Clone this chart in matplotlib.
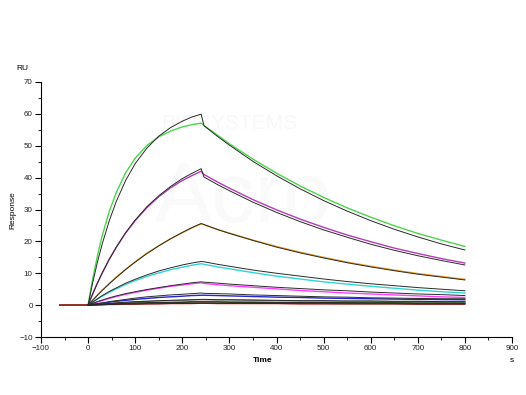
import matplotlib
matplotlib.use("Agg")
import matplotlib.pyplot as plt
from matplotlib.ticker import MultipleLocator

# ---- data ----
BASE_TIME = [-60, -40, -20]
BASELINE = [0.0, 0.0, 0.0]
TIME = [0, 5, 10, 20, 30, 45, 60, 80, 100, 125, 150, 175, 200, 220, 240, 246,
        275, 300, 350, 400, 450, 500, 550, 600, 650, 700, 750, 800]

green = [0, 4.4, 8.4, 15.6, 21.8, 29.4, 35.4, 41.6, 46.1, 50.1, 52.8, 54.6, 55.9, 56.6, 57.1,
         56.3, 53.3, 50.6, 45.8, 41.4, 37.4, 33.8, 30.5, 27.6, 24.9, 22.5, 20.4, 18.4]
fit_a = [0, 3.7, 7.2, 13.6, 19.2, 26.5, 32.6, 39.2, 44.4, 49.3, 53.0, 55.7, 57.7, 59.0, 59.9,
         56.3, 52.9, 50.2, 45.1, 40.6, 36.5, 32.8, 29.5, 26.5, 23.8, 21.4, 19.2, 17.3]
purple = [0, 1.9, 3.6, 7.0, 10.1, 14.4, 18.2, 22.7, 26.5, 30.6, 34.0, 36.8, 39.1, 40.6, 42.0,
          41.0, 38.6, 36.7, 33.1, 29.9, 27.0, 24.4, 22.0, 19.9, 17.9, 16.2, 14.6, 13.2]
fit_b = [0, 1.8, 3.6, 7.0, 10.1, 14.4, 18.2, 22.8, 26.7, 30.9, 34.3, 37.2, 39.7, 41.3, 42.8,
         40.2, 37.8, 35.9, 32.3, 29.1, 26.2, 23.6, 21.3, 19.1, 17.2, 15.5, 14.0, 12.6]
orange = [0, 0.8, 1.6, 3.2, 4.7, 6.8, 8.8, 11.3, 13.6, 16.3, 18.6, 20.8, 22.7, 24.2, 25.5,
          25.2, 23.7, 22.6, 20.4, 18.4, 16.6, 15.0, 13.5, 12.2, 11.0, 9.9, 9.0, 8.1]
fit_c = [0, 0.8, 1.6, 3.1, 4.6, 6.7, 8.7, 11.2, 13.5, 16.2, 18.6, 20.8, 22.8, 24.3, 25.6,
         25.3, 23.7, 22.5, 20.3, 18.2, 16.4, 14.8, 13.3, 12.0, 10.8, 9.7, 8.8, 7.9]
cyan = [0, 0.5, 1.0, 1.9, 2.8, 4.0, 5.1, 6.5, 7.7, 9.0, 10.1, 11.1, 11.9, 12.5, 13.0,
        12.8, 12.0, 11.4, 10.2, 9.1, 8.2, 7.3, 6.6, 5.9, 5.3, 4.7, 4.2, 3.8]
fit_d = [0, 0.5, 1.0, 2.0, 3.0, 4.3, 5.4, 6.9, 8.1, 9.5, 10.7, 11.7, 12.6, 13.2, 13.7,
         13.6, 12.8, 12.2, 11.0, 10.0, 9.1, 8.2, 7.4, 6.7, 6.1, 5.5, 5.0, 4.5]
pink = [0, 0.3, 0.5, 1.0, 1.4, 2.1, 2.7, 3.4, 4.0, 4.7, 5.3, 5.9, 6.3, 6.7, 7.0,
        6.8, 6.4, 6.1, 5.6, 5.1, 4.6, 4.2, 3.8, 3.5, 3.2, 2.9, 2.6, 2.4]
fit_e = [0, 0.3, 0.6, 1.1, 1.6, 2.3, 2.9, 3.6, 4.2, 4.9, 5.5, 6.1, 6.6, 7.0, 7.3,
         7.2, 6.9, 6.6, 6.1, 5.6, 5.2, 4.8, 4.5, 4.1, 3.8, 3.5, 3.3, 3.0]
blue = [0, 0.1, 0.2, 0.4, 0.6, 0.9, 1.2, 1.5, 1.8, 2.1, 2.4, 2.6, 2.8, 3.0, 3.1,
        3.1, 3.0, 2.9, 2.7, 2.5, 2.4, 2.2, 2.1, 2.0, 1.9, 1.8, 1.75, 1.7]
fit_f = [0, 0.1, 0.3, 0.5, 0.7, 1.1, 1.4, 1.8, 2.2, 2.6, 2.9, 3.2, 3.4, 3.6, 3.8,
         3.7, 3.6, 3.5, 3.2, 3.0, 2.8, 2.6, 2.5, 2.3, 2.2, 2.1, 2.0, 2.0]
grey = [0, 0.05, 0.1, 0.2, 0.3, 0.5, 0.7, 0.8, 1.0, 1.2, 1.3, 1.4, 1.5, 1.6, 1.7,
        1.7, 1.6, 1.6, 1.5, 1.4, 1.3, 1.3, 1.2, 1.2, 1.1, 1.1, 1.0, 1.0]
fit_g = [0, 0.05, 0.1, 0.2, 0.35, 0.5, 0.7, 0.9, 1.1, 1.2, 1.4, 1.5, 1.6, 1.7, 1.8,
         1.8, 1.7, 1.7, 1.6, 1.5, 1.4, 1.4, 1.3, 1.3, 1.2, 1.2, 1.1, 1.1]
dkgreen = [0, 0, 0.1, 0.1, 0.2, 0.3, 0.4, 0.5, 0.6, 0.7, 0.8, 0.8, 0.9, 1.0, 1.0,
           1.0, 1.0, 0.9, 0.9, 0.8, 0.8, 0.8, 0.7, 0.7, 0.7, 0.6, 0.6, 0.6]
fit_h = [0, 0, 0.1, 0.15, 0.25, 0.35, 0.45, 0.55, 0.65, 0.75, 0.8, 0.85, 0.9, 1.0, 1.05,
         1.05, 1.0, 0.95, 0.9, 0.85, 0.8, 0.8, 0.75, 0.7, 0.7, 0.65, 0.65, 0.6]
red = [0, 0, 0, 0.1, 0.1, 0.2, 0.2, 0.3, 0.3, 0.4, 0.4, 0.5, 0.5, 0.5, 0.6,
       0.6, 0.5, 0.5, 0.5, 0.5, 0.4, 0.4, 0.4, 0.4, 0.4, 0.3, 0.3, 0.3]
fit_i = [0, 0, 0.05, 0.1, 0.15, 0.2, 0.25, 0.3, 0.35, 0.4, 0.45, 0.5, 0.5, 0.55, 0.6,
         0.6, 0.55, 0.55, 0.5, 0.5, 0.45, 0.45, 0.4, 0.4, 0.4, 0.35, 0.35, 0.35]

data_series = [
    (green, "#4cd44c"), (purple, "#b43cb4"), (orange, "#e8a020"), (cyan, "#30d4d4"),
    (pink, "#ff3cff"), (blue, "#2424d0"), (grey, "#8c8c8c"), (dkgreen, "#006400"),
    (red, "#e01010"),
]
fit_series = [fit_a, fit_b, fit_c, fit_d, fit_e, fit_f, fit_g, fit_h, fit_i]

plt.rcParams['font.family'] = ['Liberation Sans', 'DejaVu Sans']

fig = plt.figure(figsize=(5.26, 3.95), dpi=100)
ax = fig.add_axes([41/526, 58/395, 471/526, 255/395])

# faint watermark
ax.text(300, 57, "BIOSYSTEMS", fontsize=15, color="#f8f8f8", ha="center", va="center", zorder=0)
ax.text(330, 33, "Acro", fontsize=62, color="#fafafa", ha="center", va="center", zorder=0)

for vals, col in data_series:
    ax.plot(BASE_TIME + TIME, BASELINE + vals, color=col, lw=1.0, zorder=2)
for vals in fit_series:
    ax.plot(TIME, vals, color="#2a2a2a", lw=0.7, zorder=3)

ax.set_xlim(-100, 900)
ax.set_ylim(-10, 70)
ax.xaxis.set_major_locator(MultipleLocator(100))
ax.xaxis.set_minor_locator(MultipleLocator(50))
ax.yaxis.set_major_locator(MultipleLocator(10))
ax.yaxis.set_minor_locator(MultipleLocator(5))
for s in ("top", "right"):
    ax.spines[s].set_visible(False)
for s in ("left", "bottom"):
    ax.spines[s].set_linewidth(0.8)
ax.tick_params(which="major", length=4, width=0.8, labelsize=5.8, pad=2, labelcolor="#222222")
ax.tick_params(which="minor", length=2, width=0.6)

fig.text(22/526, 1 - 68/395, "RU", fontsize=6, ha="center", va="center")
fig.text(13/526, 1 - 210/395, "Response", fontsize=6, rotation=90, ha="center", va="center")
fig.text(263/526, 1 - 360/395, "Time", fontsize=6, fontweight="bold", ha="center", va="center")
fig.text(512/526, 1 - 360/395, "s", fontsize=6, ha="center", va="center")

fig.savefig("out.png", dpi=100)
